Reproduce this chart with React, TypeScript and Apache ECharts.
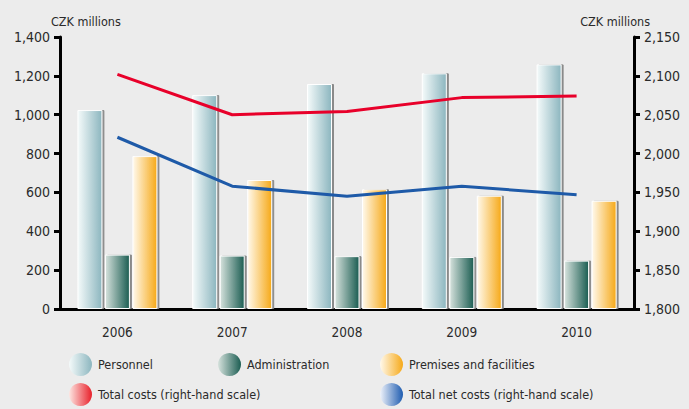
import React, { useEffect, useRef } from "react";
import * as echarts from "echarts";

const years = ["2006", "2007", "2008", "2009", "2010"];
const personnel = [1024, 1101, 1158, 1213, 1259];
const administration = [280, 275, 272, 268, 249];
const premises = [787, 664, 616, 583, 557];
const totalCosts = [2102, 2050, 2054, 2072, 2074];
const totalNetCosts = [2021, 1958, 1945, 1958, 1947];
const leftTicks = { min: 0, max: 1400, interval: 200 };
const rightTicks = { min: 1800, max: 2150, interval: 50 };

const FONT = "'DejaVu Sans Condensed', 'Liberation Sans', sans-serif";
const TXT = "#2a2a2a";

const grad = (a: string, b: string) =>
  new echarts.graphic.LinearGradient(0, 0, 1, 0, [
    { offset: 0, color: a },
    { offset: 1, color: b },
  ]);

export default function App() {
  const ref = useRef<HTMLDivElement>(null);
  useEffect(() => {
    if (!ref.current) return;
    const chart = echarts.init(ref.current, null, { renderer: "svg" });
    const cPers = grad("#f4fafa", "#8cb6bf");
    const cAdm = grad("#d6e2dd", "#1b5d52");
    const cPrem = grad("#fff9ec", "#f6a918");
    const cRed = grad("#fde6e2", "#e8202a");
    const cBlue = grad("#eef2fa", "#1e5cb0");
    const barStyle = (c: any) => ({
      color: c,
      borderColor: "#ffffff",
      borderWidth: 1,
      shadowColor: "#8a8a8a",
      shadowOffsetX: 2,
      shadowOffsetY: 0,
      shadowBlur: 0,
    });
    const legendBase = {
      orient: "horizontal" as const,
      itemWidth: 23,
      itemHeight: 23,
      itemGap: 10,
      icon: "circle",
      selectedMode: false,
      textStyle: { fontFamily: FONT, fontSize: 12.5, color: TXT, padding: [0, 0, 0, 1] },
      padding: 0,
    };
    const mkLegend = (name: string, color: any, left: number, top: number) => ({
      ...legendBase,
      left,
      top,
      data: [{ name, icon: "circle", itemStyle: { color, borderWidth: 0 } }],
    });
    const tickLabel = {
      margin: 10,
      fontFamily: FONT,
      fontSize: 14,
      color: TXT,
      formatter: (v: number) => v.toLocaleString("en-US"),
    };
    chart.setOption({
      animation: false,
      backgroundColor: "#ececec",
      grid: { left: 60, right: 55, top: 37, bottom: 100, containLabel: false },
      legend: [
        mkLegend("Personnel", cPers, 69, 353),
        mkLegend("Administration", cAdm, 218, 353),
        mkLegend("Premises and facilities", cPrem, 380, 353),
        mkLegend("Total costs (right-hand scale)", cRed, 69, 383),
        mkLegend("Total net costs (right-hand scale)", cBlue, 380, 383),
      ],
      graphic: [
        {
          type: "text",
          left: 51,
          top: 15,
          style: { text: "CZK millions", fontFamily: FONT, fontSize: 12.5, fill: TXT },
        },
        {
          type: "text",
          right: 39,
          top: 15,
          style: { text: "CZK millions", fontFamily: FONT, fontSize: 12.5, fill: TXT },
        },
      ],
      xAxis: {
        type: "category",
        data: years,
        boundaryGap: true,
        axisLine: { lineStyle: { color: "#000", width: 3 } },
        axisTick: { show: false },
        axisLabel: { margin: 16, fontFamily: FONT, fontSize: 13.5, color: TXT },
      },
      yAxis: [
        {
          type: "value",
          position: "left",
          ...leftTicks,
          splitLine: { show: false },
          axisLine: { show: true, lineStyle: { color: "#000", width: 3 } },
          axisTick: { show: true, length: 6, lineStyle: { color: "#000", width: 3 } },
          axisLabel: tickLabel,
        },
        {
          type: "value",
          position: "right",
          ...rightTicks,
          splitLine: { show: false },
          axisLine: { show: true, lineStyle: { color: "#000", width: 3 } },
          axisTick: { show: true, length: 6, lineStyle: { color: "#000", width: 3 } },
          axisLabel: tickLabel,
        },
      ],
      series: [
        {
          name: "Personnel",
          type: "bar",
          data: personnel,
          barWidth: 25,
          barGap: "10%",
          itemStyle: barStyle(cPers),
        },
        {
          name: "Administration",
          type: "bar",
          data: administration,
          barWidth: 25,
          barGap: "10%",
          itemStyle: barStyle(cAdm),
        },
        {
          name: "Premises and facilities",
          type: "bar",
          data: premises,
          barWidth: 25,
          barGap: "10%",
          itemStyle: barStyle(cPrem),
        },
        {
          name: "Total costs (right-hand scale)",
          type: "line",
          yAxisIndex: 1,
          data: totalCosts,
          showSymbol: false,
          symbol: "none",
          lineStyle: { color: "#e8002a", width: 3 },
          itemStyle: { color: "#e8002a" },
          z: 5,
        },
        {
          name: "Total net costs (right-hand scale)",
          type: "line",
          yAxisIndex: 1,
          data: totalNetCosts,
          showSymbol: false,
          symbol: "none",
          lineStyle: { color: "#1e5aa8", width: 3 },
          itemStyle: { color: "#1e5aa8" },
          z: 5,
        },
      ],
    });
    return () => chart.dispose();
  }, []);
  return (
    <div
      ref={ref}
      style={{ position: "fixed", left: 0, top: 0, width: 689, height: 409 }}
    />
  );
}
